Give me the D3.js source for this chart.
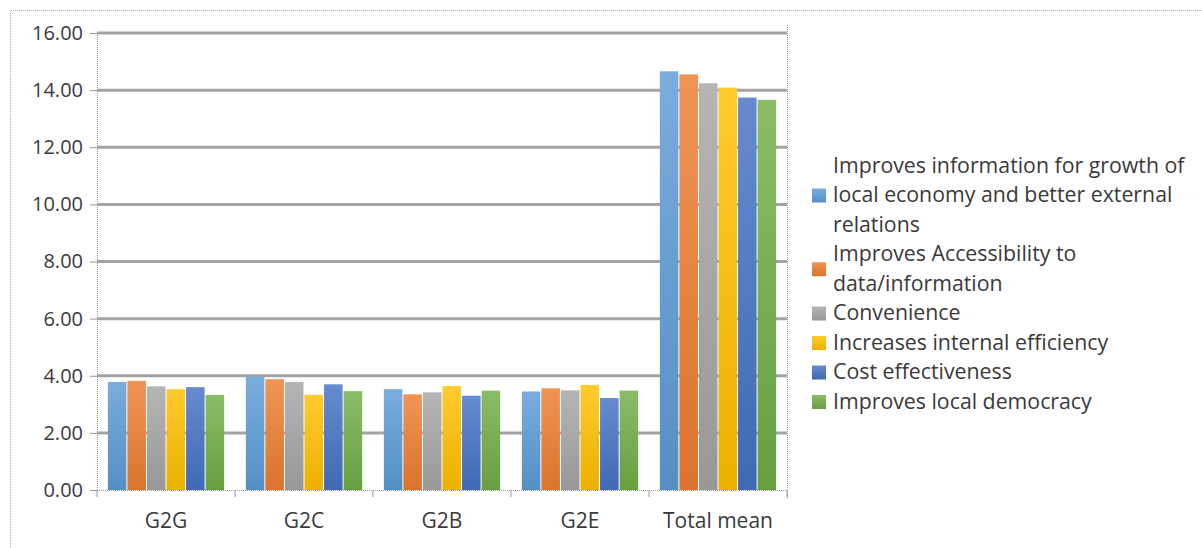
<!DOCTYPE html>
<html><head><meta charset="utf-8">
<script src="https://cdn.jsdelivr.net/npm/d3@7/dist/d3.min.js"></script>
<style>
html,body{margin:0;padding:0;background:#fff;}
svg{display:block;}
text{font-family:"Open Sans",sans-serif;fill:#3a3a3a;}
</style></head>
<body>
<svg id="chart" width="1202" height="548"></svg>
<script>
const categories = ["G2G","G2C","G2B","G2E","Total mean"];
const seriesNames = [
  "Improves information for growth of local economy and better external relations",
  "Improves Accessibility to data/information",
  "Convenience",
  "Increases internal efficiency",
  "Cost effectiveness",
  "Improves local democracy"
];
const legendLines = [
  ["Improves information for growth of","local economy and better external","relations"],
  ["Improves Accessibility to","data/information"],
  ["Convenience"],
  ["Increases internal efficiency"],
  ["Cost effectiveness"],
  ["Improves local democracy"]
];
const s1 = [3.78, 3.96, 3.53, 3.45, 14.66];
const s2 = [3.82, 3.88, 3.35, 3.56, 14.55];
const s3 = [3.63, 3.78, 3.42, 3.49, 14.24];
const s4 = [3.53, 3.33, 3.64, 3.68, 14.09];
const s5 = [3.60, 3.70, 3.30, 3.22, 13.74];
const s6 = [3.33, 3.46, 3.48, 3.48, 13.66];
const seriesValues = [s1,s2,s3,s4,s5,s6];
const yTicks = [0,2,4,6,8,10,12,14,16];
const colors = ["#5B9BD5","#ED7D31","#A5A5A5","#FFC000","#4472C4","#70AD47"];

const svg = d3.select("#chart");
const mLeft = 97, mRight = 787, mTop = 33, mBottom = 490;

svg.append("path").attr("d","M10.5,548 V10.5 H1202")
  .attr("fill","none").attr("stroke","#b0b0b0").attr("stroke-dasharray","1,1");

const defs = svg.append("defs");
colors.forEach((c,i)=>{
  const g = defs.append("linearGradient").attr("id","g"+i)
    .attr("x1",0).attr("y1",0).attr("x2",0).attr("y2",1);
  g.append("stop").attr("offset","0%").attr("stop-color", d3.interpolateRgb(c,"#fff")(0.18));
  g.append("stop").attr("offset","100%").attr("stop-color", d3.interpolateRgb(c,"#000")(0.08));
});

const x0 = d3.scaleBand().domain(categories).range([mLeft,mRight]).paddingInner(0.15).paddingOuter(0.075);
const x1 = d3.scaleBand().domain(d3.range(seriesNames.length)).range([0,x0.bandwidth()]);
const y = d3.scaleLinear().domain([0,16]).range([mBottom,mTop]);

svg.append("g").selectAll("line").data(yTicks.filter(d=>d>0)).join("line")
  .attr("x1",mLeft).attr("x2",mRight).attr("y1",d=>y(d)).attr("y2",d=>y(d))
  .attr("stroke","#a3a3a3").attr("stroke-width",3);

svg.append("line").attr("x1",mRight+0.5).attr("x2",mRight+0.5).attr("y1",mTop-8).attr("y2",mBottom+8)
  .attr("stroke","#999").attr("stroke-dasharray","1,1");

const groups = svg.append("g").selectAll("g").data(categories).join("g")
  .attr("transform",d=>`translate(${x0(d)},0)`);
groups.selectAll("rect").data((d,ci)=>seriesValues.map((s,si)=>({si,v:s[ci]}))).join("rect")
  .attr("x",d=>x1(d.si)+0.5).attr("width",x1.bandwidth()-1)
  .attr("y",d=>y(d.v)).attr("height",d=>mBottom-y(d.v))
  .attr("fill",d=>`url(#g${d.si})`);

const yAxis = d3.axisLeft(y).tickValues(yTicks).tickFormat(d3.format(".2f")).tickSize(7).tickPadding(8);
const ya = svg.append("g").attr("transform",`translate(${mLeft},0)`).call(yAxis);
ya.select(".domain").attr("stroke","#999").attr("stroke-dasharray","1,1");
ya.selectAll(".tick line").attr("stroke","#999");
ya.selectAll("text").style("font-size","20px").attr("fill","#3a3a3a").attr("x",-14);

const xEdge = d3.scaleLinear().domain([0,categories.length]).range([mLeft,mRight]);
svg.append("line").attr("x1",mLeft).attr("x2",mRight).attr("y1",mBottom+0.5).attr("y2",mBottom+0.5)
  .attr("stroke","#999").attr("stroke-dasharray","1,1");
svg.append("g").selectAll("line").data(d3.range(categories.length+1)).join("line")
  .attr("x1",d=>xEdge(d)).attr("x2",d=>xEdge(d)).attr("y1",mBottom).attr("y2",mBottom+7)
  .attr("stroke","#999");
svg.append("g").selectAll("text").data(categories).join("text")
  .attr("x",d=>x0(d)+x0.bandwidth()/2).attr("y",528).attr("text-anchor","middle")
  .style("font-size","21px").text(d=>d);

const lineH = 29.5;
let ly = 165;
const lg = svg.append("g");
legendLines.forEach((lines,i)=>{
  const startY = ly;
  lines.forEach((t,k)=>{
    lg.append("text").attr("x",833).attr("y",ly+7.5).style("font-size","21.3px").text(t);
    ly += lineH;
  });
  const cy = (startY + ly - lineH)/2;
  lg.append("rect").attr("x",812).attr("y",cy-6).attr("width",14).attr("height",14)
    .attr("fill",`url(#g${i})`);
});
</script>
</body></html>
